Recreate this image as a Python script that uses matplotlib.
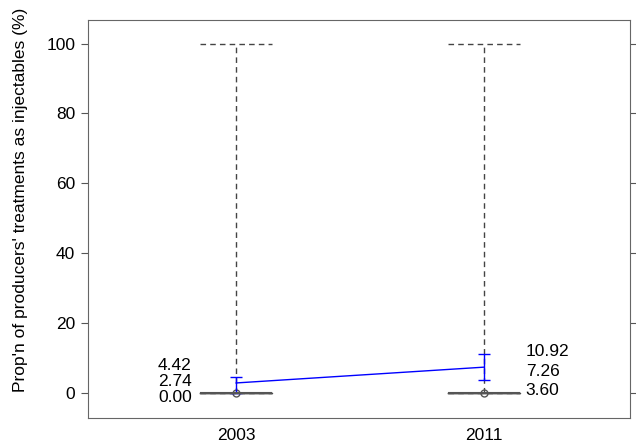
import numpy as np
import matplotlib.pyplot as plt

plt.rcParams['font.family'] = ['Liberation Sans', 'DejaVu Sans']

years = ['2003', '2011']
box_low = [0, 0]
box_q1 = [0, 0]
box_med = [0, 0]
box_q3 = [0, 0]
box_high = [100, 100]
means = [2.74, 7.26]
ci_low = [0.00, 3.60]
ci_high = [4.42, 10.92]

pos = np.arange(1, len(years)+1)
stats = []
for i in range(len(years)):
	stats.append(dict(med=box_med[i], q1=box_q1[i], q3=box_q3[i],
		whislo=box_low[i], whishi=box_high[i], fliers=[], label=years[i]))

fig = plt.figure(figsize=(6.36, 4.48), dpi=100)
ax = fig.add_axes([0.138, 0.067, 0.852, 0.888])

ax.bxp(stats, positions=pos, widths=0.29, showfliers=False,
	boxprops=dict(color='#555555', linewidth=1),
	medianprops=dict(color='#555555', linewidth=1.5),
	whiskerprops=dict(color='#444444', linestyle=(0, (4, 3)), linewidth=1),
	capprops=dict(color='#444444', linestyle=(0, (4, 3)), linewidth=1),
	capwidths=0.29)
ax.plot(pos, box_med, 'o', mfc='none', mec='#555555', ms=5, mew=1)

yerr = [np.array(means)-np.array(ci_low), np.array(ci_high)-np.array(means)]
ax.errorbar(pos, means, yerr=yerr, color='blue', linewidth=1, capsize=4)

# value labels, left of 2003 and right of 2011
offs = [-0.18, 0.17]
has = ['right', 'left']
step = [4.6, 5.7]
shift = [0.4, -1.1]
for i in range(len(years)):
	x = pos[i] + offs[i]
	for j, v in enumerate([ci_high[i], means[i], ci_low[i]]):
		ax.text(x, means[i] + shift[i] + step[i]*(1-j), '%.2f' % v, ha=has[i], va='center', fontsize=12.5)

ax.set_xlim(0.4, 2.59)
ax.set_ylim(-7.3, 106.7)
ax.set_xticks(pos)
ax.set_xticklabels(years)
ax.set_yticks(np.arange(0, 101, 20))
ax.tick_params(axis='both', labelsize=12.5, color='#555555', length=5)
ax.tick_params(axis='x', length=0, pad=7)
ax.tick_params(axis='y', right=True, direction='out', pad=4)
ax.set_ylabel("Prop'n of producers' treatments as injectables (%)", fontsize=12.5)
ax.yaxis.set_label_coords(-0.111, 0.548)
for s in ax.spines.values():
	s.set_color('#666666')

fig.savefig('out.png', dpi=100)
